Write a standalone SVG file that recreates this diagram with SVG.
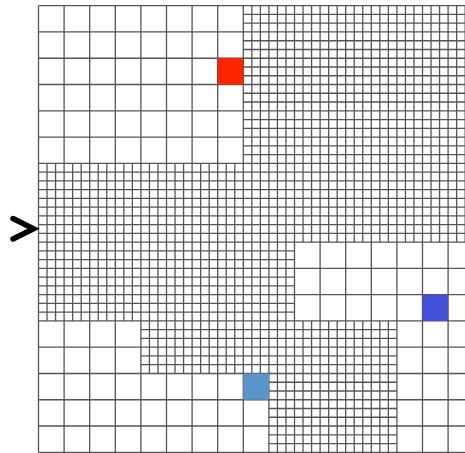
<svg xmlns="http://www.w3.org/2000/svg" width="465" height="453" viewBox="0 0 465 453">
<style>
.g{fill:none;stroke:#555;stroke-width:1.3}
.arrow{fill:none;stroke:#000;stroke-width:5.5;stroke-linecap:round;stroke-linejoin:miter}
</style>
<rect width="465" height="453" fill="#fff"/>
<g id="fine-lines" class="g">
<path d="M47.03 163.32V320.94M55.57 163.32V320.94M72.63 163.32V320.94M81.17 163.32V320.94M98.23 163.32V320.94M106.77 163.32V320.94M123.83 163.32V320.94M132.37 163.32V320.94"/>
<path d="M149.43 163.32V373.48M157.97 163.32V373.48M175.03 163.32V373.48M183.57 163.32V373.48M200.63 163.32V373.48M209.17 163.32V373.48M226.23 163.32V373.48M234.77 163.32V373.48"/>
<path d="M251.83 5.7V373.48M260.37 5.7V373.48"/>
<path d="M277.43 5.7V452.29M285.97 5.7V452.29"/>
<path d="M303.03 5.7V242.13M311.57 5.7V242.13M328.63 5.7V242.13M337.17 5.7V242.13M354.23 5.7V242.13M362.77 5.7V242.13M379.83 5.7V242.13M388.37 5.7V242.13"/>
<path d="M303.03 320.94V452.29M311.57 320.94V452.29M328.63 320.94V452.29M337.17 320.94V452.29M354.23 320.94V452.29M362.77 320.94V452.29M379.83 320.94V452.29M388.37 320.94V452.29"/>
<path d="M405.43 5.7V242.13M413.97 5.7V242.13M431.03 5.7V242.13M439.57 5.7V242.13M456.63 5.7V242.13M465.17 5.7V242.13"/>
<path d="M243.3 14.46H474M243.3 23.21H474M243.3 40.73H474M243.3 49.48H474M243.3 67H474M243.3 75.75H474M243.3 93.27H474M243.3 102.02H474M243.3 119.54H474M243.3 128.29H474M243.3 145.81H474M243.3 154.56H474"/>
<path d="M38.5 172.08H474M38.5 180.83H474M38.5 198.35H474M38.5 207.1H474M38.5 224.62H474M38.5 233.37H474"/>
<path d="M38.5 250.89H294.5M38.5 259.64H294.5M38.5 277.16H294.5M38.5 285.91H294.5M38.5 303.43H294.5M38.5 312.18H294.5"/>
<path d="M140.9 329.7H396.9M140.9 338.45H396.9M140.9 355.97H396.9M140.9 364.72H396.9"/>
<path d="M268.9 382.24H396.9M268.9 390.99H396.9M268.9 408.51H396.9M268.9 417.26H396.9M268.9 434.78H396.9M268.9 443.53H396.9"/>
</g>
<g id="coarse-lines" class="g">
<path d="M38.5 5.7V452.29M64.1 5.7V452.29M89.7 5.7V452.29M115.3 5.7V452.29M140.9 5.7V452.29M166.5 5.7V452.29M192.1 5.7V452.29M217.7 5.7V452.29M243.3 5.7V452.29M268.9 5.7V452.29M294.5 5.7V452.29M320.1 5.7V452.29M345.7 5.7V452.29M371.3 5.7V452.29M396.9 5.7V452.29M422.5 5.7V452.29M448.1 5.7V452.29"/>
<path d="M38.5 5.7H474M38.5 31.97H474M38.5 58.24H474M38.5 84.51H474M38.5 110.78H474M38.5 137.05H474M38.5 163.32H474M38.5 189.59H474M38.5 215.86H474M38.5 242.13H474M38.5 268.4H474M38.5 294.67H474M38.5 320.94H474M38.5 347.21H474M38.5 373.48H474M38.5 399.75H474M38.5 426.02H474M38.5 452.29H474"/>
</g>
<g id="cells">
<rect id="red-cell" x="217.7" y="58.24" width="25.6" height="26.27" fill="#ff2400"/>
<rect id="blue-cell" x="422.5" y="294.67" width="25.6" height="26.27" fill="#434fd8"/>
<rect id="lightblue-cell" x="243.3" y="373.48" width="25.6" height="26.27" fill="#5b94c8"/>
</g>
<g id="marker">
<polyline class="arrow" points="13,218.5 33.5,228.8 13,239"/>
</g>
</svg>
